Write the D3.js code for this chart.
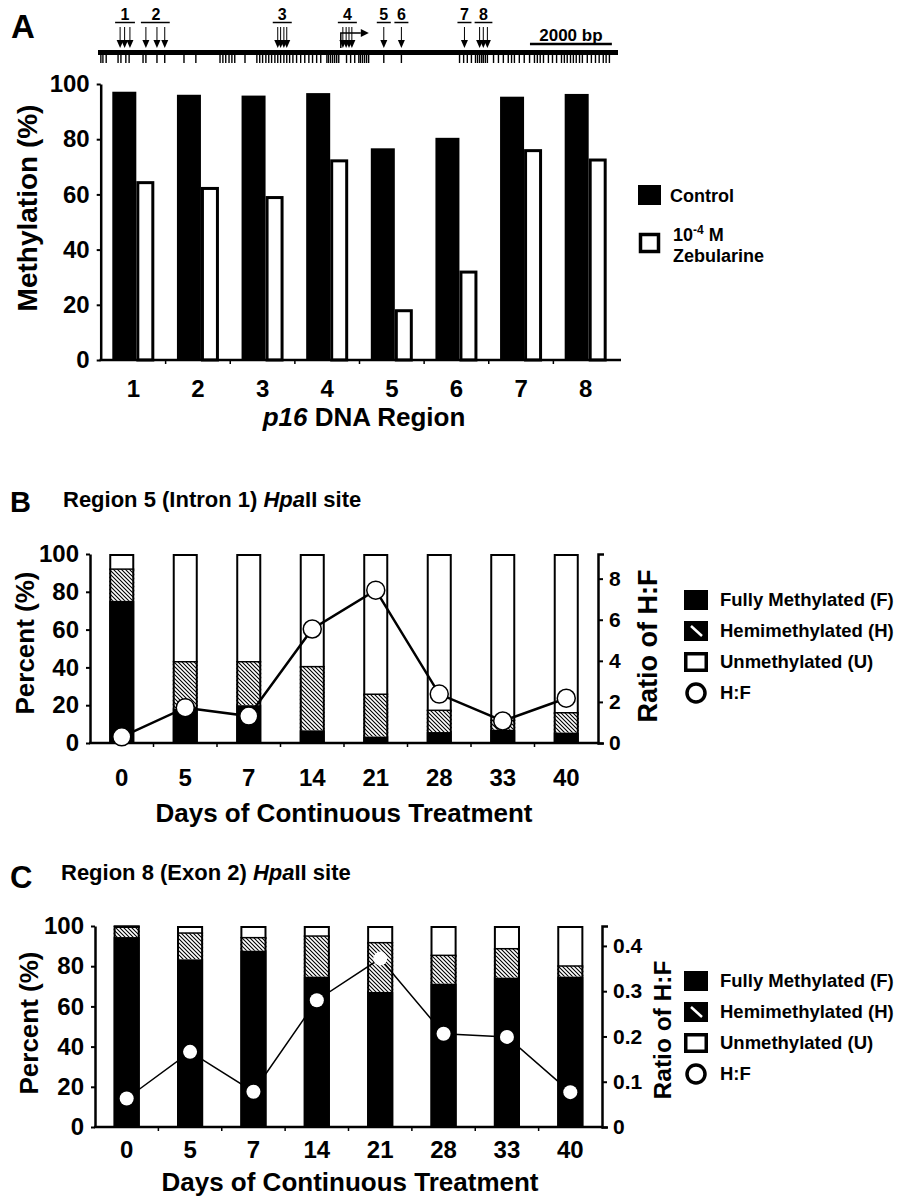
<!DOCTYPE html>
<html lang="en">
<head>
<meta charset="UTF-8">
<title>p16 methylation after zebularine</title>
<script src="https://d3js.org/d3.v7.min.js"></script>
<style>
  body { margin: 0; background: #fff; }
  svg text { font-family: "Liberation Sans", Arial, Helvetica, sans-serif; font-weight: bold; fill: #000; }
</style>
</head>
<body>
<div id="chart"></div>
<script>
// ---- DATA ----
// panel A
const regions = ["1", "2", "3", "4", "5", "6", "7", "8"];
const controlMeth = [97.2, 96.1, 95.8, 96.7, 76.7, 80.5, 95.4, 96.4];
const zebMeth = [64.8, 62.7, 59.4, 72.7, 18.4, 32.4, 76.4, 73.0];
const pctTicks = [0, 20, 40, 60, 80, 100];

// gene map (kb along the locus)
const cpgSites = [0.07, 0.12, 0.2, 0.49, 0.56, 0.68, 0.76, 1.1, 1.17, 1.44, 1.63, 2.1, 2.39,
  2.98, 3.05, 3.12, 3.2, 3.27, 3.34, 3.59, 3.88, 3.95, 4.02, 4.1, 4.17, 4.24, 4.32, 4.39, 4.46,
  4.54, 4.61, 4.68, 4.76, 4.85, 4.95, 5.05, 5.15, 5.24, 5.34, 5.44, 5.59, 5.63, 5.68, 5.73, 5.78,
  5.83, 5.88, 6.07, 6.17, 6.27, 6.37, 6.41, 6.46, 6.51, 6.56, 6.61, 6.98, 7.41,
  8.83, 8.93, 9.02, 9.12, 9.22, 9.27, 9.32, 9.37, 9.41, 9.46, 9.51, 9.66, 9.78, 9.9, 10.02,
  10.1, 10.17, 10.29, 10.41, 10.54, 10.66, 10.73, 10.8, 10.88, 11.0, 11.1, 11.2, 11.32, 11.39,
  11.46, 11.54, 11.61, 11.68, 11.76, 11.83, 11.95, 12.05, 12.15, 12.24, 12.34, 12.41, 12.49];
const probeLabels = ["1", "2", "3", "4", "5", "6", "7", "8"];
const probeSites = [[0.54, 0.65, 0.78], [1.17, 1.44, 1.63], [4.39, 4.46, 4.54, 4.61],
  [5.98, 6.06, 6.13, 6.2], [6.98], [7.41], [8.95], [9.32, 9.41, 9.51]];
const tssKb = 5.93;
const locusKb = 12.7;

// panels B and C
const days = ["0", "5", "7", "14", "21", "28", "33", "40"];
const r5Full = [75.2, 18, 20, 6.7, 3.4, 5.8, 7, 5.5];
const r5Hemi = [16.8, 25, 23, 33.7, 22.4, 11.5, 5, 10.5];
const r5Ratio = [0.3, 1.72, 1.31, 5.55, 7.44, 2.38, 1.07, 2.18];
const r5RatioTicks = [0, 2, 4, 6, 8];

const r8Full = [94.5, 83.4, 87.7, 74.8, 67.2, 71.3, 74.3, 74.8];
const r8Hemi = [5.5, 13.1, 6.5, 20.2, 24.5, 14.1, 14.4, 5.3];
const r8Ratio = [0.063, 0.166, 0.078, 0.28, 0.372, 0.206, 0.199, 0.077];
const r8RatioTicks = [0, 0.1, 0.2, 0.3, 0.4];

const svg = d3.select("#chart").append("svg")
  .attr("width", 897)
  .attr("height", 1198);

const defs = svg.append("defs");
defs.append("pattern")
  .attr("id", "hatch")
  .attr("patternUnits", "userSpaceOnUse")
  .attr("width", 4).attr("height", 4)
  .append("path")
  .attr("d", "M-1,-1 L5,5 M-1,3 L1,5 M3,-1 L5,1")
  .attr("stroke", "#000")
  .attr("stroke-width", 1.1);

function styleAxis(g, size) {
  g.select(".domain").attr("stroke-width", 2.5);
  g.selectAll(".tick line").attr("stroke-width", 2);
  g.selectAll(".tick text").attr("font-size", size).attr("font-family", null);
}

// small marks between categories on a baseline
function boundaryTicks(g, x, y0) {
  const step = x.step();
  const first = x(x.domain()[0]) - step * x.paddingInner() / 2;
  g.selectAll(".bt")
    .data(x.domain().slice(1))
    .enter()
    .append("line")
    .attr("x1", (d, i) => first + (i + 1) * step)
    .attr("x2", (d, i) => first + (i + 1) * step)
    .attr("y1", y0).attr("y2", y0 + 4)
    .attr("stroke", "#000").attr("stroke-width", 1.5);
}

// ---- PANEL A: gene map ----
svg.append("text").attr("x", 11).attr("y", 38).attr("font-size", 33).text("A");

const gx = d3.scaleLinear().domain([0, locusKb]).range([98, 618]);
const gmap = svg.append("g");

gmap.append("line")
  .attr("x1", gx(0)).attr("x2", gx(locusKb))
  .attr("y1", 52.5).attr("y2", 52.5)
  .attr("stroke", "#000").attr("stroke-width", 5);

gmap.selectAll(".cpg")
  .data(cpgSites)
  .enter()
  .append("line")
  .attr("class", "cpg")
  .attr("x1", d => gx(d)).attr("x2", d => gx(d))
  .attr("y1", 54).attr("y2", 63)
  .attr("stroke", "#000").attr("stroke-width", 1.4);

const probes = gmap.selectAll(".probe")
  .data(probeLabels.map((l, i) => ({ label: l, sites: probeSites[i] })))
  .enter()
  .append("g")
  .attr("class", "probe");

probes.append("text")
  .attr("x", d => gx(d3.mean(d.sites)))
  .attr("y", 20)
  .attr("text-anchor", "middle")
  .attr("font-size", 16)
  .text(d => d.label);

probes.append("line")
  .attr("x1", d => Math.min(gx(d3.min(d.sites)) - 5, gx(d3.mean(d.sites)) - 7))
  .attr("x2", d => Math.max(gx(d3.max(d.sites)) + 5, gx(d3.mean(d.sites)) + 7))
  .attr("y1", 22.5).attr("y2", 22.5)
  .attr("stroke", "#000").attr("stroke-width", 1.5);

probes.each(function (d) {
  const g = d3.select(this);
  d.sites.forEach(s => {
    g.append("line")
      .attr("x1", gx(s)).attr("x2", gx(s))
      .attr("y1", 27).attr("y2", 41)
      .attr("stroke", "#000").attr("stroke-width", 1);
    g.append("path")
      .attr("d", `M${gx(s) - 3.5},40 L${gx(s) + 3.5},40 L${gx(s)},48 Z`)
      .attr("fill", "#000");
  });
});

// transcription start
gmap.append("path")
  .attr("d", `M${gx(tssKb)},48 V33 H${gx(tssKb) + 20}`)
  .attr("fill", "none").attr("stroke", "#000").attr("stroke-width", 1.5);
gmap.append("path")
  .attr("d", `M${gx(tssKb) + 20},29 L${gx(tssKb) + 28},33 L${gx(tssKb) + 20},37 Z`)
  .attr("fill", "#000");

// scale bar
gmap.append("line")
  .attr("x1", gx(10.55)).attr("x2", gx(12.55))
  .attr("y1", 44).attr("y2", 44)
  .attr("stroke", "#000").attr("stroke-width", 2.5);
gmap.append("text")
  .attr("x", gx(11.55)).attr("y", 41)
  .attr("text-anchor", "middle").attr("font-size", 17)
  .text("2000 bp");

// ---- PANEL A: bars ----
const yA = d3.scaleLinear().domain([0, 100]).range([360, 84]);
const xA = d3.scaleBand().domain(regions).range([101, 618]).paddingInner(0.35).paddingOuter(0.175);
const bwA = xA.bandwidth();
const blackW = bwA * 24 / 42;

const gA = svg.append("g");
gA.selectAll(".ctrl")
  .data(regions)
  .enter()
  .append("rect")
  .attr("x", d => xA(d))
  .attr("y", (d, i) => yA(controlMeth[i]))
  .attr("width", blackW)
  .attr("height", (d, i) => yA(0) - yA(controlMeth[i]))
  .attr("fill", "#000");

gA.selectAll(".zeb")
  .data(regions)
  .enter()
  .append("rect")
  .attr("x", d => xA(d) + blackW + 1.5)
  .attr("y", (d, i) => yA(zebMeth[i]) + 1.5)
  .attr("width", bwA - blackW - 3)
  .attr("height", (d, i) => yA(0) - yA(zebMeth[i]) - 1.5)
  .attr("fill", "#fff")
  .attr("stroke", "#000")
  .attr("stroke-width", 3);

const axA = gA.append("g")
  .attr("transform", "translate(100.7,0)")
  .call(d3.axisLeft(yA).tickValues(pctTicks).tickSize(4).tickPadding(7).tickSizeOuter(0));
styleAxis(axA, 24);

gA.append("line")
  .attr("x1", 99.5).attr("x2", 621)
  .attr("y1", yA(0)).attr("y2", yA(0))
  .attr("stroke", "#000").attr("stroke-width", 2.5);
boundaryTicks(gA, xA, yA(0));

gA.selectAll(".xlab")
  .data(regions)
  .enter()
  .append("text")
  .attr("x", d => xA(d) + bwA / 2)
  .attr("y", 397)
  .attr("text-anchor", "middle")
  .attr("font-size", 24)
  .text(d => d);

const xtA = gA.append("text")
  .attr("x", 364).attr("y", 426)
  .attr("text-anchor", "middle").attr("font-size", 26);
xtA.append("tspan").attr("font-style", "italic").text("p16");
xtA.append("tspan").text(" DNA Region");

gA.append("text")
  .attr("transform", "translate(37,208) rotate(-90)")
  .attr("text-anchor", "middle").attr("font-size", 28)
  .text("Methylation (%)");

// legend A
gA.append("rect").attr("x", 638).attr("y", 185).attr("width", 23).attr("height", 20).attr("fill", "#000");
gA.append("text").attr("x", 670).attr("y", 202).attr("font-size", 18).text("Control");
gA.append("rect").attr("x", 640.5).attr("y", 234.5).attr("width", 18).attr("height", 17)
  .attr("fill", "#fff").attr("stroke", "#000").attr("stroke-width", 3.5);
const lz = gA.append("text").attr("x", 673).attr("y", 241).attr("font-size", 18);
lz.append("tspan").text("10");
lz.append("tspan").attr("font-size", 12).attr("dy", -7).text("-4");
lz.append("tspan").attr("dy", 7).text(" M");
gA.append("text").attr("x", 673).attr("y", 262).attr("font-size", 18).text("Zebularine");

// ---- PANELS B and C ----
function stackedPanel(o) {
  const g = svg.append("g");

  g.append("text").attr("x", o.letterX).attr("y", o.letterY).attr("font-size", o.letterSize).text(o.letter);
  const t = g.append("text").attr("x", o.titleX).attr("y", o.titleY).attr("font-size", 22);
  t.append("tspan").text(o.title);
  t.append("tspan").attr("font-style", "italic").text("Hpa");
  t.append("tspan").text("II site");

  const y = d3.scaleLinear().domain([0, 100]).range(o.yRange);
  const yR = d3.scaleLinear().domain([0, o.ratioMax]).range(o.yRange);
  const x = d3.scaleBand().domain(days).range(o.xRange).paddingInner(o.pad).paddingOuter(o.pad / 2);
  const bw = x.bandwidth();

  const rows = days.map((d, i) => ({ day: d, F: o.full[i], H: o.hemi[i], U: 100 - o.full[i] - o.hemi[i] }));
  const series = d3.stack().keys(["F", "H", "U"])(rows);
  const fills = { F: "#000", H: "url(#hatch)", U: "#fff" };

  g.selectAll(".layer")
    .data(series)
    .enter()
    .append("g")
    .attr("fill", s => fills[s.key])
    .selectAll("rect")
    .data(s => s)
    .enter()
    .append("rect")
    .attr("x", d => x(d.data.day))
    .attr("y", d => y(d[1]))
    .attr("width", bw)
    .attr("height", d => y(d[0]) - y(d[1]));

  // thin dividers between hatched and white segments
  g.selectAll(".div")
    .data(rows)
    .enter()
    .append("line")
    .attr("x1", d => x(d.day)).attr("x2", d => x(d.day) + bw)
    .attr("y1", d => y(d.F + d.H)).attr("y2", d => y(d.F + d.H))
    .attr("stroke", "#000").attr("stroke-width", 1.5);

  g.selectAll(".outline")
    .data(rows)
    .enter()
    .append("rect")
    .attr("x", d => x(d.day) + 1)
    .attr("y", y(100) + 1)
    .attr("width", bw - 2)
    .attr("height", y(0) - y(100) - 1)
    .attr("fill", "none")
    .attr("stroke", "#000")
    .attr("stroke-width", 2);

  const axL = g.append("g")
    .attr("transform", `translate(${o.xRange[0]},0)`)
    .call(d3.axisLeft(y).tickValues(pctTicks).tickSize(4).tickPadding(7).tickSizeOuter(0));
  styleAxis(axL, 24);

  const axR = g.append("g")
    .attr("transform", `translate(${o.xRange[1]},0)`)
    .call(d3.axisRight(yR).tickValues(o.ratioTicks).tickSize(5).tickPadding(6).tickSizeOuter(6)
      .tickFormat(o.fmt));
  styleAxis(axR, 21);

  g.append("line")
    .attr("x1", o.xRange[0] - 1).attr("x2", o.xRange[1] + 1)
    .attr("y1", y(0)).attr("y2", y(0))
    .attr("stroke", "#000").attr("stroke-width", 2.5);
  boundaryTicks(g, x, y(0));

  g.selectAll(".xlab")
    .data(days)
    .enter()
    .append("text")
    .attr("x", d => x(d) + bw / 2)
    .attr("y", o.xLabY)
    .attr("text-anchor", "middle")
    .attr("font-size", 24)
    .text(d => d);

  g.append("text")
    .attr("x", o.xTitleX).attr("y", o.xTitleY)
    .attr("text-anchor", "middle").attr("font-size", 26)
    .text("Days of Continuous Treatment");

  g.append("text")
    .attr("transform", `translate(${o.yTitleX},${o.yTitleY}) rotate(-90)`)
    .attr("text-anchor", "middle").attr("font-size", 26)
    .text("Percent (%)");
  g.append("text")
    .attr("transform", `translate(${o.rTitleX},${o.rTitleY}) rotate(-90)`)
    .attr("text-anchor", "middle").attr("font-size", o.rTitleSize)
    .text("Ratio of H:F");

  const line = d3.line()
    .x((d, i) => x(days[i]) + bw / 2)
    .y(d => yR(d));
  g.append("path")
    .datum(o.ratio)
    .attr("d", line)
    .attr("fill", "none")
    .attr("stroke", "#000")
    .attr("stroke-width", o.lineW);

  g.selectAll(".pt")
    .data(o.ratio)
    .enter()
    .append("circle")
    .attr("cx", (d, i) => x(days[i]) + bw / 2)
    .attr("cy", d => yR(d))
    .attr("r", o.r)
    .attr("fill", "#fff")
    .attr("stroke", o.ptStroke ? "#000" : "none")
    .attr("stroke-width", 1.5);

  // legend
  const lx = 684, ly = o.legendY;
  const step = 31;
  g.append("rect").attr("x", lx).attr("y", ly - 10).attr("width", 24).attr("height", 20).attr("fill", "#000");
  g.append("rect").attr("x", lx + 1.5).attr("y", ly + step - 8.5).attr("width", 21).attr("height", 17)
    .attr("fill", "#000").attr("stroke", "#000").attr("stroke-width", 3);
  g.append("line")
    .attr("x1", lx + 7).attr("y1", ly + step - 5).attr("x2", lx + 18).attr("y2", ly + step + 5)
    .attr("stroke", "#fff").attr("stroke-width", 2.5);
  g.append("rect").attr("x", lx + 1.75).attr("y", ly + 2 * step - 8.25).attr("width", 20.5).attr("height", 16.5)
    .attr("fill", "#fff").attr("stroke", "#000").attr("stroke-width", 3.5);
  g.append("circle").attr("cx", lx + 12).attr("cy", ly + 3 * step).attr("r", 9)
    .attr("fill", "#fff").attr("stroke", "#000").attr("stroke-width", 3.5);

  const labels = ["Fully Methylated (F)", "Hemimethylated (H)", "Unmethylated (U)", "H:F"];
  g.selectAll(".leg")
    .data(labels)
    .enter()
    .append("text")
    .attr("x", 720)
    .attr("y", (d, i) => ly + 6 + i * step)
    .attr("font-size", 18.5)
    .text(d => d);
}

stackedPanel({
  letter: "B", letterX: 10, letterY: 512, letterSize: 29,
  title: "Region 5 (Intron 1) ", titleX: 63, titleY: 507,
  full: r5Full, hemi: r5Hemi, ratio: r5Ratio,
  ratioMax: 9.2, ratioTicks: r5RatioTicks, fmt: d3.format("d"),
  xRange: [90, 598], yRange: [743, 554], pad: 0.606,
  xLabY: 786, xTitleX: 344, xTitleY: 822, yTitleX: 34, yTitleY: 643,
  rTitleX: 657, rTitleY: 646, rTitleSize: 27,
  r: 9, ptStroke: true, lineW: 2.5, legendY: 600
});

stackedPanel({
  letter: "C", letterX: 10, letterY: 888, letterSize: 31,
  title: "Region 8 (Exon 2) ", titleX: 61, titleY: 880,
  full: r8Full, hemi: r8Hemi, ratio: r8Ratio,
  ratioMax: 0.444, ratioTicks: r8RatioTicks, fmt: d => d === 0 ? "0" : d3.format(".1f")(d),
  xRange: [95, 602], yRange: [1127, 926], pad: 0.588,
  xLabY: 1158, xTitleX: 350, xTitleY: 1191, yTitleX: 38, yTitleY: 1023,
  rTitleX: 671, rTitleY: 1030, rTitleSize: 24.5,
  r: 7, ptStroke: false, lineW: 1.5, legendY: 981
});
</script>
</body>
</html>
